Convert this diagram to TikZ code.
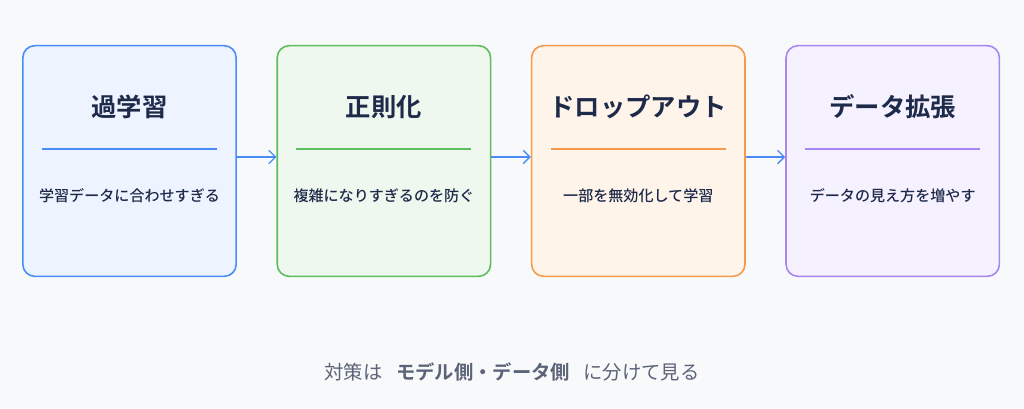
\documentclass[tikz,border=0pt]{standalone}
\usepackage{fontspec}
\newfontfamily\cjk{Noto Sans CJK JP}
\newfontfamily\cjkm{Noto Sans CJK JP Medium}
\newfontfamily\cjkb{Noto Sans CJK JP Bold}
\usetikzlibrary{positioning, arrows.meta}
\definecolor{bgc}{HTML}{F8F9FB}
\definecolor{ink}{HTML}{1E2A4A}
\definecolor{gray}{HTML}{5A6378}
\definecolor{blueb}{HTML}{4A8CF7}\definecolor{bluef}{HTML}{EEF4FF}
\definecolor{greenb}{HTML}{5CBF5E}\definecolor{greenf}{HTML}{EFF8EE}
\definecolor{orangeb}{HTML}{F59A4A}\definecolor{orangef}{HTML}{FFF4EA}
\definecolor{purpleb}{HTML}{A887F5}\definecolor{purplef}{HTML}{F5F1FE}
\tikzset{
  stage/.style={rectangle, rounded corners=9pt, line width=1.2pt, minimum width=160pt, minimum height=173pt},
  ttl/.style={text=ink, font=\cjkb\fontsize{19}{19}\selectfont},
  sub/.style={text=ink, font=\cjkm\fontsize{11.3}{11.3}\selectfont},
  rule/.style={line width=0.9pt},
  line/.style={draw=blueb, line width=1pt, -{Straight Barb[length=5pt,width=10pt]}}
}
\begin{document}
\begin{tikzpicture}[x=0.75pt, y=-0.75pt, node distance=29.6pt]
  \fill[bgc] (0,0) rectangle (1024,408);
  \useasboundingbox (0,0) rectangle (1024,408);

  \node[stage, draw=blueb, fill=bluef] (over) at (129.5,161) {};
  \node[stage, draw=greenb, fill=greenf, right=of over] (reg) {};
  \node[stage, draw=orangeb, fill=orangef, right=of reg] (drop) {};
  \node[stage, draw=purpleb, fill=purplef, right=of drop] (aug) {};

  \foreach \n/\c/\t/\s in {over/blueb/過学習/学習データに合わせすぎる,
                           reg/greenb/正則化/複雑になりすぎるのを防ぐ,
                           drop/orangeb/ドロップアウト/一部を無効化して学習,
                           aug/purpleb/データ拡張/データの見え方を増やす} {
    \node[ttl] (\n-t) at ([yshift=40.5pt]\n.center) {\t};
    \draw[rule, draw=\c] ([xshift=15pt,yshift=9pt]\n.west) -- ([xshift=-15pt,yshift=9pt]\n.east);
    \node[sub] (\n-s) at ([yshift=-26pt]\n.center) {\s};
  }

  \path[line] ([yshift=3pt]over.east) -- ([yshift=3pt]reg.west);
  \path[line] ([yshift=3pt]reg.east) -- ([yshift=3pt]drop.west);
  \path[line] ([yshift=3pt]drop.east) -- ([yshift=3pt]aug.west);

  \node[text=gray, font=\cjk\fontsize{14.5}{14.5}\selectfont] (note) at (512,372)
    {対策は\hspace{0.7em}{\cjkb モデル側・データ側}\hspace{0.7em}に分けて見る};
\end{tikzpicture}
\end{document}
